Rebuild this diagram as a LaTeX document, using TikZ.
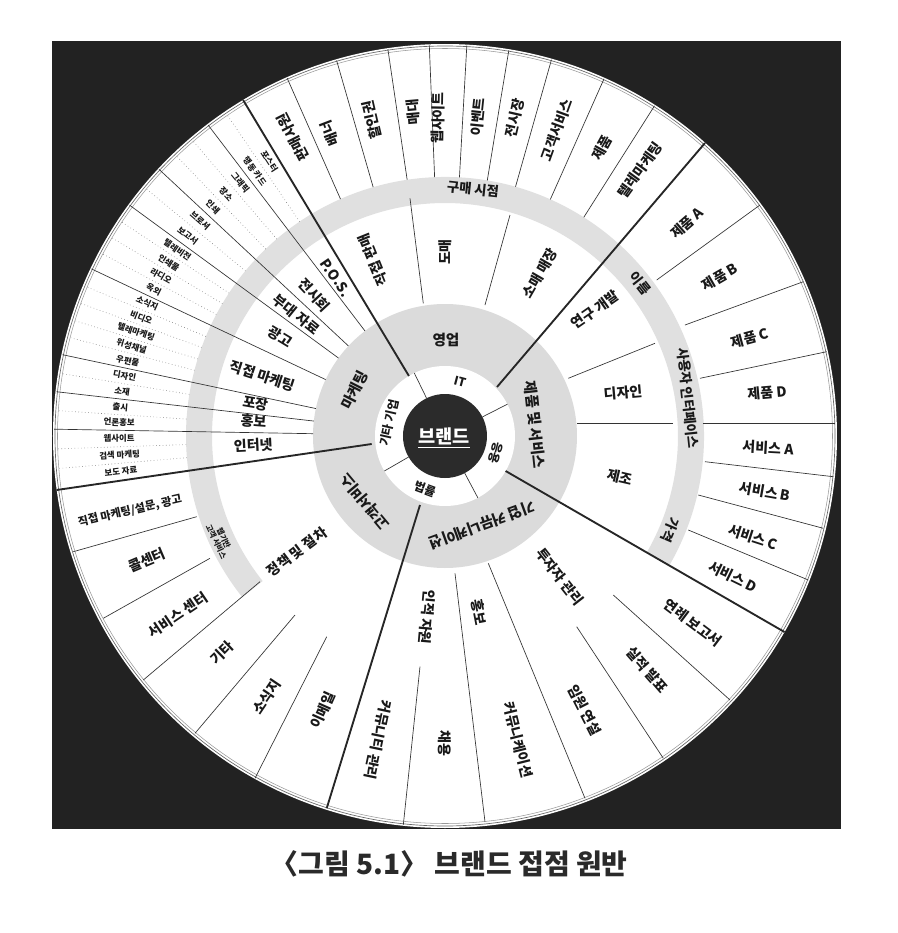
\documentclass[tikz,border=0pt]{standalone}
\usepackage{fontspec}
\setmainfont{Noto Sans CJK KR}
\usetikzlibrary{calc}
\definecolor{bgblack}{HTML}{222222}
\definecolor{ringgray}{HTML}{DBDBDB}
\definecolor{bandgray}{HTML}{E0E0E0}
\definecolor{brandfill}{HTML}{2B2B2B}
\definecolor{captext}{HTML}{2A2A2A}
\tikzset{
  thick line/.style={line width=1.4pt, draw=black!85},
  thin line/.style={line width=0.5pt, draw=black!80},
  dot line/.style={line width=0.45pt, draw=black!50, dotted},
  lab/.style={inner sep=0pt, font=\bfseries\fontsize{10.5}{11}\selectfont, text=black!90},
  ringlab/.style={inner sep=0pt, font=\bfseries\fontsize{11}{12}\selectfont, text=black!90},
  innerlab/.style={inner sep=0pt, font=\bfseries\fontsize{9}{10}\selectfont, text=black!90},
  bandlab/.style={inner sep=0pt, font=\bfseries\fontsize{10}{11}\selectfont, text=black!90},
  tiny/.style={inner sep=0pt, font=\bfseries\fontsize{6.3}{7}\selectfont, text=black!90},
}
\begin{document}
\begin{tikzpicture}[x=0.75pt,y=0.75pt]
\useasboundingbox (-445,-497) rectangle (453,436);
% background square and disc
\fill[bgblack] (-393,-393) rectangle (396,395);
\fill[white] (0,0) circle (392);
\draw[black!60, line width=0.5pt] (0,0) circle (390);
\draw[black!40, line width=0.4pt] (0,0) circle (387.5);
% partial band
\fill[bandgray] (-30:259) arc[start angle=-30, end angle=218.5, radius=259]
  -- (218.5:233) arc[start angle=218.5, end angle=-30, radius=233] -- cycle;
% gray ring
\fill[ringgray] (0,0) circle (132);
\fill[white] (0,0) circle (70);
\fill[brandfill] (0,0) circle (42);
% inner dividers
\foreach \a in {116,27,298,210} \draw[thin line] (\a:42) -- (\a:70);
% marketing dotted and solid lines
\foreach \a in {124.15,130.5,133.8,140.4,146.5,149.25,152,157.4,160,162.7,165.3,170.75,176.25,181.9,184.8}
  \draw[dot line] (\a:259) -- (\a:389);
\foreach \a in {127.3,137,143.8,154.7,168,173.5,179} \draw[thin line] (\a:132) -- (\a:391);
% sales outer lines
\foreach \a in {113.8,106.1,98.4,92.3,86.8,80.6,74.2,66,57.6} \draw[thin line] (\a:259) -- (\a:391);
% major thick lines
\draw[thick line] (121:70) -- (121:392);
\draw[thick line] (-30:70) -- (-30:392);
\begin{scope}[shift={(-445,436)}, yscale=-1]
\draw[thick line] (497,387) -- (705,143);
\draw[thick line] (371.7,444) -- (56.7,490);
\draw[thick line] (420,505) -- (326.7,808.3);
% sales secondary dividers
\draw[thin line] (423.3,303.3) -- (410,198.3);
\draw[thin line] (485,305) -- (510,215);
% product secondary dividers
\draw[thin line] (568.3,378.3) -- (655,343.3);
\draw[thin line] (577,423) -- (673,423);
% corporate comm dividers
\draw[thin line] (455,573.3) -- (485,821.7);
\draw[thin line] (488.3,563.3) -- (585,798.3);
\draw[thin line] (420,666.7) -- (403.3,825);
\draw[thin line] (576.7,626.7) -- (663.3,758.3);
\draw[thin line] (613.3,595) -- (730,700);
% customer service
\draw[thin line] (196.7,516.7) -- (73.3,551.7);
\draw[thin line] (210,558.3) -- (103.3,618.3);
\draw[thin line] (260,581.7) -- (143.3,680);
\draw[thin line] (295,615) -- (195,733.3);
\draw[thin line] (326.7,636.7) -- (255,778.3);
% product outer
\draw[thin line] (656.7,280) -- (760,205);
\draw[thin line] (685,325) -- (803.3,281.7);
\draw[thin line] (700,378.3) -- (826.7,351.7);
\draw[thin line] (703,423) -- (835,423);
\draw[thin line] (705,461.7) -- (833.3,476.7);
\draw[thin line] (698.3,495) -- (823.3,528.3);
\draw[thin line] (688.3,530) -- (808.3,580);
\end{scope}

% ---------- labels ----------
\node[inner sep=0pt, text=white, font=\bfseries\fontsize{14}{15}\selectfont] (brand) at (-1,-2) {\underline{브랜드}};
% marketing secondary and outer labels (radial, reading inward)
\foreach \a/\t [count=\i] in {124.6/P.O.S., 132.9/전시회, 140.8/부대 자료, 148.9/광고, 161.8/직접 마케팅, 170.2/포장, 175.6/홍보, 182.8/인터넷}
  \node[lab, rotate=\a-180] (ms\i) at (\a:192) {\t};
\foreach \a/\t [count=\i] in {122.6/포스터, 125.7/행동 카드, 128.9/그래픽, 132.15/장소, 135.4/인쇄, 138.7/브로셔, 142.1/보고서, 145.2/텔레비전, 147.9/인쇄물, 150.6/라디오, 153.3/옥외, 156.0/소식지, 158.7/비디오, 161.35/텔레마케팅, 164.0/위성채널, 166.7/우편물, 169.4/디자인, 172.1/소재, 174.9/출시, 177.6/언론홍보, 180.45/웹사이트, 183.35/검색 마케팅, 186.25/보도 자료}
  \node[tiny, rotate=\a-180] (mo\i) at (\a:326) {\t};

\begin{scope}[shift={(-445,436)}, yscale=-1]
\node[innerlab, rotate=-15] (iIT) at (460,382) {IT};
\node[innerlab, rotate=-105] (iApp) at (496,453) {응용};
\node[innerlab, rotate=-20] (iLaw) at (425,489) {법률};
\node[innerlab, rotate=77] (iOther) at (389,423) {기타 기업};

\node[ringlab] (gSales) at (446,340) {영업};
\node[ringlab, rotate=63] (gMkt) at (355,390) {마케팅};
\node[ringlab, rotate=-84] (gProd) at (535,425) {제품 및 서비스};
\node[ringlab, rotate=200] (gCorp) at (482,525) {기업 커뮤니케이션};
\node[ringlab, rotate=130] (gCS) at (365,502) {고객서비스};

\node[lab, rotate=112] (sDirect) at (373,260) {직접 판매};
\node[lab, rotate=90] (sWhole) at (445,252) {도매};
\node[lab, rotate=60] (sRetail) at (540,273) {소매 매장};
\node[lab, rotate=35] (pRD) at (595,310) {연구 개발};
\node[lab, rotate=5] (pDesign) at (623,393) {디자인};
\node[lab, rotate=-13] (pMfg) at (620,477) {제조};
\node[lab, rotate=-52] (cIR) at (560,577) {투자자 관리};
\node[lab, rotate=-79] (cPR) at (479,612) {홍보};
\node[lab, rotate=-95] (cHR) at (427,617) {인적 자원};
\node[lab, rotate=37] (csPol) at (297,552) {정책 및 절차};

\node[bandlab, rotate=-6] (bPOP) at (473,189) {구매 시점};
\node[bandlab, rotate=-52] (bName) at (640,283) {이름};
\node[bandlab, rotate=-84] (bUI) at (688,398) {사용자 인터페이스};
\node[bandlab, rotate=-113] (bPrice) at (670,530) {가격};
\node[bandlab, rotate=-65, align=center, font=\bfseries\fontsize{5.8}{6.2}\selectfont] (bWeb) at (220,540) {웹기반\\고객 서비스};

\node[lab, rotate=117] (o1) at (293,137) {판매사원};
\node[lab, rotate=111] (o2) at (330,133) {배너};
\node[lab, rotate=103] (o3) at (372,120) {할인권};
\node[lab, rotate=95] (o4) at (413,112) {매대};
\node[lab, rotate=89] (o5) at (438,118) {웹사이트};
\node[lab, rotate=84] (o6) at (478,117) {이벤트};
\node[lab, rotate=77] (o7) at (515,118) {전시장};
\node[lab, rotate=70] (o8) at (557,130) {고객서비스};
\node[lab, rotate=61] (o9) at (602,148) {제품};
\node[lab, rotate=54] (o10) at (640,170) {텔레마케팅};

\node[lab, rotate=41] (pA) at (687,223) {제품 A};
\node[lab, rotate=30] (pB) at (720,277) {제품 B};
\node[lab, rotate=15] (pC) at (750,338) {제품 C};
\node[lab, rotate=5] (pD) at (767,393) {제품 D};
\node[lab, rotate=-3] (sA) at (768,448) {서비스 A};
\node[lab, rotate=-10] (sB) at (765,492) {서비스 B};
\node[lab, rotate=-18] (sC) at (753,537) {서비스 C};
\node[lab, rotate=-26] (sD) at (733,577) {서비스 D};

\node[lab, rotate=-102] (cc1) at (378,740) {커뮤니티 관리};
\node[lab, rotate=-90] (cc2) at (445,743) {채용};
\node[lab, rotate=-76] (cc3) at (518,740) {커뮤니케이션};
\node[lab, rotate=-63] (cc4) at (585,710) {임원 연설};
\node[lab, rotate=-49] (cc5) at (647,670) {실적 발표};
\node[lab, rotate=-37] (cc6) at (693,623) {연례 보고서};

\node[lab, rotate=13, font=\bfseries\fontsize{8.4}{9}\selectfont] (cs1) at (130,511) {직접 마케팅/설문, 광고};
\node[lab, rotate=23] (cs2) at (147,560) {콜센터};
\node[lab, rotate=34] (cs3) at (178,615) {서비스 센터};
\node[lab, rotate=44] (cs4) at (222,653) {기타};
\node[lab, rotate=56] (cs5) at (267,697) {소식지};
\node[lab, rotate=66] (cs6) at (323,710) {이메일};

\node[text=captext, inner sep=0pt, font=\bfseries\fontsize{21}{22}\selectfont] (cap) at (449,864) {〈그림 5.1〉 브랜드 접점 원반};
\end{scope}
\end{tikzpicture}
\end{document}
